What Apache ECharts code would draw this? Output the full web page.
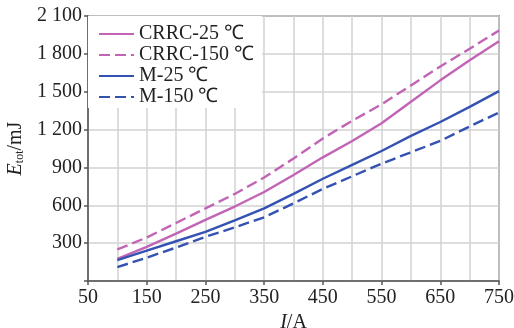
<!DOCTYPE html>
<html><head><meta charset="utf-8">
<script src="https://cdn.jsdelivr.net/npm/echarts@6/dist/echarts.min.js"></script>
<style>html,body{margin:0;padding:0;background:#fff}#c{width:514px;height:328px}</style>
</head><body><div id="c"></div>
<script>
var currents = [100,150,200,250,300,350,400,450,500,550,600,650,700,750];
var crrc25  = [175,270,375,485,590,705,840,980,1110,1250,1420,1590,1750,1900];
var crrc150 = [250,345,460,575,690,820,970,1130,1270,1400,1550,1700,1840,1985];
var m25     = [165,240,315,390,480,575,690,810,920,1030,1150,1260,1380,1505];
var m150    = [110,185,265,350,425,505,615,730,830,930,1020,1110,1225,1335];
var seriesNames = ['CRRC-25 ℃','CRRC-150 ℃','M-25 ℃','M-150 ℃'];

function pairs(v){ return currents.map(function(x,i){return [x,v[i]];}); }
var pink = '#c264b6', blue = '#3352b2';
var font = 'Liberation Serif';
var fs = 20;
function mk(name, data, color, dashed){
  return {name:name, type:'line', data:pairs(data), symbol:'none', smooth:false,
    lineStyle:{color:color, width:2.4, type: dashed ? [11,5] : 'solid'},
    itemStyle:{color:color}};
}
var chart = echarts.init(document.getElementById('c'));
chart.setOption({
  animation:false,
  backgroundColor:'#fff',
  grid:{left:88, right:15, top:16, bottom:47, outerBoundsMode:'none', containLabel:false, show:true, borderColor:'#555', borderWidth:1.5, backgroundColor:'transparent'},
  legend:{orient:'vertical', left:88, top:16, padding:[8,8,1,10], itemGap:1, itemWidth:35, itemHeight:14,
    backgroundColor:'#fff', data:seriesNames,
    itemStyle:{opacity:0},
    textStyle:{fontFamily:font, fontSize:fs, color:'#222'}},
  xAxis:{type:'value', min:50, max:750, interval:100,
    name:'{i|I}/A', nameLocation:'middle', nameGap:27,
    nameTextStyle:{fontFamily:font, fontSize:fs, color:'#222', rich:{i:{fontStyle:'italic', fontFamily:font, fontSize:fs, color:'#222'}}},
    axisLine:{show:true, lineStyle:{color:'#555', width:1.5}},
    axisTick:{show:true, length:4, inside:false, lineStyle:{color:'#555', width:1.5}},
    axisLabel:{fontFamily:font, fontSize:fs, color:'#222', margin:7},
    splitLine:{show:true, lineStyle:{color:'#d2d2d2', width:1.5}},
    minorTick:{show:false, splitNumber:2},
    minorSplitLine:{show:true, lineStyle:{color:'#d2d2d2', width:1.5}}
  },
  yAxis:{type:'value', min:0, max:2100, interval:300,
    name:'{e|E}{s|tot}/mJ', nameLocation:'middle', nameGap:57, nameRotate:90,
    nameTextStyle:{fontFamily:font, fontSize:fs, color:'#222', rich:{e:{fontStyle:'italic', fontFamily:font, fontSize:fs, color:'#222'}, s:{fontFamily:font, fontSize:12, color:'#222', verticalAlign:'bottom', padding:[9,0,0,0]}}},
    axisLine:{show:true, lineStyle:{color:'#555', width:1.5}},
    axisTick:{show:true, length:4, lineStyle:{color:'#555', width:1.5}},
    axisLabel:{fontFamily:font, fontSize:fs, color:'#222', margin:6,
      formatter:function(v){ if(v===0) return ''; var s=String(v); return s.length>3 ? s.slice(0,s.length-3)+' '+s.slice(-3) : s; }},
    splitLine:{show:true, lineStyle:{color:'#d2d2d2', width:1.5}}
  },
  series:[mk(seriesNames[0],crrc25,pink,false), mk(seriesNames[1],crrc150,pink,true),
          mk(seriesNames[2],m25,blue,false), mk(seriesNames[3],m150,blue,true)]
});
</script></body></html>
